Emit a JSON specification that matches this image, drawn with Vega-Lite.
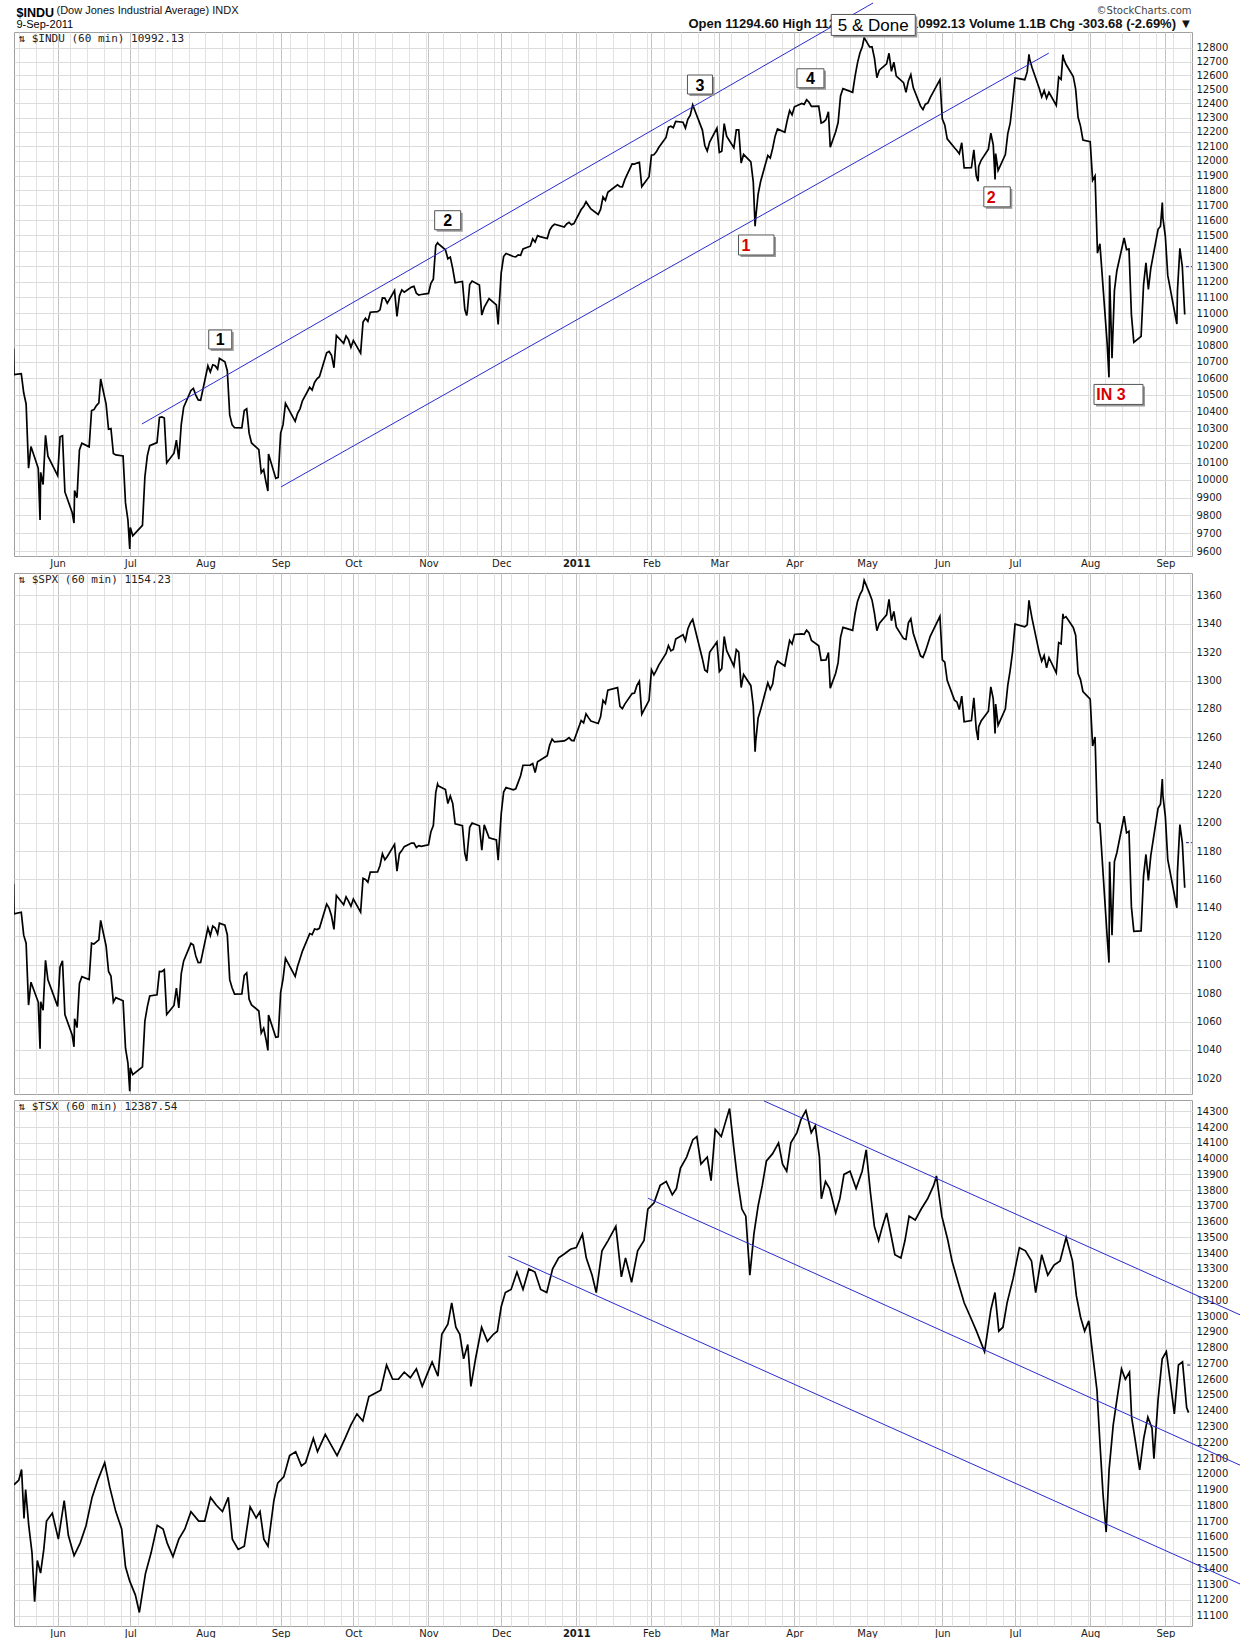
{
  "$schema": "https://vega.github.io/schema/vega-lite/v6.json",
  "background": "white",
  "padding": {"left": 13, "right": 0, "top": 0, "bottom": 0},
  "title": {
    "text": "$INDU",
    "subtitle": "9-Sep-2011",
    "anchor": "start",
    "frame": "bounds",
    "offset": -29.3,
    "dx": 3,
    "font": "Liberation Sans",
    "fontSize": 12.5,
    "fontWeight": "bold",
    "color": "#000000",
    "subtitleFont": "Liberation Sans",
    "subtitleFontSize": 11,
    "subtitleColor": "#000000",
    "subtitlePadding": -0.5
  },
  "spacing": 3,
  "config": {
    "view": {"stroke": "#a0a0a0"},
    "axis": {"labelFont": "DejaVu Sans", "labelFontSize": 10, "labelColor": "#1a1a1a"}
  },
  "datasets": {
    "idx": [
      {"d":"2010-05-13T20:00","i":10780,"s":1157},
      {"d":"2010-05-14","i":10620,"s":1135.7},
      {"d":"2010-05-17","i":10626,"s":1136.9},
      {"d":"2010-05-18","i":10511,"s":1120.8},
      {"d":"2010-05-19","i":10444,"s":1115.1},
      {"d":"2010-05-20","i":10068,"s":1071.6},
      {"d":"2010-05-21","i":10193,"s":1087.7},
      {"d":"2010-05-24","i":10067,"s":1073.7},
      {"d":"2010-05-24T18:00","i":9774,"s":1040.8},
      {"d":"2010-05-25","i":10044,"s":1074.0},
      {"d":"2010-05-26","i":9974,"s":1067.9},
      {"d":"2010-05-27","i":10259,"s":1103.1},
      {"d":"2010-05-28","i":10137,"s":1089.4},
      {"d":"2010-06-01","i":10025,"s":1070.7},
      {"d":"2010-06-02","i":10250,"s":1098.4},
      {"d":"2010-06-03","i":10256,"s":1102.8},
      {"d":"2010-06-04","i":9932,"s":1064.9},
      {"d":"2010-06-07","i":9816,"s":1050.5},
      {"d":"2010-06-07T18:00","i":9757,"s":1042.2},
      {"d":"2010-06-08","i":9940,"s":1062.0},
      {"d":"2010-06-09","i":9899,"s":1055.7},
      {"d":"2010-06-10","i":10173,"s":1086.8},
      {"d":"2010-06-11","i":10212,"s":1091.6},
      {"d":"2010-06-14","i":10191,"s":1089.6},
      {"d":"2010-06-15","i":10405,"s":1115.2},
      {"d":"2010-06-16","i":10410,"s":1114.6},
      {"d":"2010-06-17","i":10434,"s":1116.0},
      {"d":"2010-06-18","i":10450,"s":1117.5},
      {"d":"2010-06-18T18:00","i":10594,"s":1131.2},
      {"d":"2010-06-21","i":10443,"s":1113.2},
      {"d":"2010-06-22","i":10294,"s":1095.3},
      {"d":"2010-06-23","i":10298,"s":1092.0},
      {"d":"2010-06-24","i":10152,"s":1073.7},
      {"d":"2010-06-25","i":10144,"s":1076.8},
      {"d":"2010-06-28","i":10138,"s":1074.6},
      {"d":"2010-06-29","i":9870,"s":1041.2},
      {"d":"2010-06-30","i":9774,"s":1030.7},
      {"d":"2010-06-30T18:00","i":9614,"s":1010.9},
      {"d":"2010-07-01","i":9732,"s":1027.4},
      {"d":"2010-07-02","i":9686,"s":1022.6},
      {"d":"2010-07-06","i":9744,"s":1028.1},
      {"d":"2010-07-07","i":10018,"s":1060.3},
      {"d":"2010-07-08","i":10139,"s":1070.3},
      {"d":"2010-07-09","i":10198,"s":1078.0},
      {"d":"2010-07-12","i":10216,"s":1078.8},
      {"d":"2010-07-13","i":10364,"s":1095.3},
      {"d":"2010-07-14","i":10367,"s":1095.2},
      {"d":"2010-07-15","i":10360,"s":1096.5},
      {"d":"2010-07-16","i":10098,"s":1064.9},
      {"d":"2010-07-19","i":10154,"s":1071.3},
      {"d":"2010-07-20","i":10230,"s":1083.5},
      {"d":"2010-07-21","i":10120,"s":1069.6},
      {"d":"2010-07-22","i":10322,"s":1093.7},
      {"d":"2010-07-23","i":10425,"s":1102.7},
      {"d":"2010-07-26","i":10525,"s":1115.0},
      {"d":"2010-07-27","i":10537,"s":1113.8},
      {"d":"2010-07-28","i":10497,"s":1106.1},
      {"d":"2010-07-29","i":10468,"s":1101.5},
      {"d":"2010-07-30","i":10466,"s":1101.6},
      {"d":"2010-08-02","i":10674,"s":1125.9},
      {"d":"2010-08-03","i":10636,"s":1120.5},
      {"d":"2010-08-04","i":10680,"s":1127.2},
      {"d":"2010-08-05","i":10675,"s":1125.8},
      {"d":"2010-08-06","i":10654,"s":1121.6},
      {"d":"2010-08-06T18:00","i":10719,"s":1129.2},
      {"d":"2010-08-09","i":10698,"s":1127.8},
      {"d":"2010-08-10","i":10644,"s":1121.1},
      {"d":"2010-08-11","i":10379,"s":1089.5},
      {"d":"2010-08-12","i":10320,"s":1083.6},
      {"d":"2010-08-13","i":10303,"s":1079.3},
      {"d":"2010-08-16","i":10302,"s":1079.4},
      {"d":"2010-08-17","i":10405,"s":1092.5},
      {"d":"2010-08-18","i":10415,"s":1094.2},
      {"d":"2010-08-19","i":10271,"s":1075.6},
      {"d":"2010-08-20","i":10214,"s":1071.7},
      {"d":"2010-08-23","i":10175,"s":1067.4},
      {"d":"2010-08-24","i":10041,"s":1051.9},
      {"d":"2010-08-25","i":10060,"s":1055.3},
      {"d":"2010-08-26","i":9985,"s":1047.2},
      {"d":"2010-08-26T18:00","i":9937,"s":1039.7},
      {"d":"2010-08-27","i":10150,"s":1064.6},
      {"d":"2010-08-30","i":10009,"s":1048.9},
      {"d":"2010-08-31","i":10015,"s":1049.3},
      {"d":"2010-09-01","i":10270,"s":1080.3},
      {"d":"2010-09-02","i":10321,"s":1090.1},
      {"d":"2010-09-03","i":10448,"s":1104.5},
      {"d":"2010-09-07","i":10341,"s":1091.8},
      {"d":"2010-09-08","i":10388,"s":1098.9},
      {"d":"2010-09-09","i":10415,"s":1104.2},
      {"d":"2010-09-10","i":10463,"s":1109.6},
      {"d":"2010-09-13","i":10544,"s":1121.9},
      {"d":"2010-09-14","i":10527,"s":1121.1},
      {"d":"2010-09-15","i":10573,"s":1125.1},
      {"d":"2010-09-16","i":10595,"s":1124.7},
      {"d":"2010-09-17","i":10608,"s":1125.6},
      {"d":"2010-09-20","i":10754,"s":1142.7},
      {"d":"2010-09-21","i":10762,"s":1139.8},
      {"d":"2010-09-22","i":10739,"s":1134.3},
      {"d":"2010-09-23","i":10662,"s":1124.8},
      {"d":"2010-09-24","i":10861,"s":1148.7},
      {"d":"2010-09-27","i":10812,"s":1142.2},
      {"d":"2010-09-28","i":10858,"s":1147.7},
      {"d":"2010-09-29","i":10835,"s":1144.7},
      {"d":"2010-09-30","i":10788,"s":1141.2},
      {"d":"2010-10-01","i":10830,"s":1146.2},
      {"d":"2010-10-04","i":10752,"s":1137.0},
      {"d":"2010-10-05","i":10945,"s":1160.8},
      {"d":"2010-10-06","i":10968,"s":1160.0},
      {"d":"2010-10-07","i":10948,"s":1158.1},
      {"d":"2010-10-08","i":11006,"s":1165.2},
      {"d":"2010-10-11","i":11010,"s":1165.3},
      {"d":"2010-10-12","i":11021,"s":1169.8},
      {"d":"2010-10-13","i":11096,"s":1178.1},
      {"d":"2010-10-14","i":11095,"s":1173.8},
      {"d":"2010-10-15","i":11063,"s":1176.2},
      {"d":"2010-10-18","i":11143,"s":1184.7},
      {"d":"2010-10-19","i":10979,"s":1165.9},
      {"d":"2010-10-20","i":11108,"s":1178.2},
      {"d":"2010-10-21","i":11147,"s":1180.3},
      {"d":"2010-10-22","i":11133,"s":1183.1},
      {"d":"2010-10-25","i":11165,"s":1185.6},
      {"d":"2010-10-26","i":11170,"s":1185.6},
      {"d":"2010-10-27","i":11126,"s":1182.5},
      {"d":"2010-10-28","i":11114,"s":1183.8},
      {"d":"2010-10-29","i":11118,"s":1183.3},
      {"d":"2010-11-01","i":11125,"s":1184.4},
      {"d":"2010-11-02","i":11189,"s":1193.6},
      {"d":"2010-11-03","i":11216,"s":1198.0},
      {"d":"2010-11-04","i":11434,"s":1221.1},
      {"d":"2010-11-04T18:00","i":11451,"s":1227.1},
      {"d":"2010-11-05","i":11445,"s":1225.9},
      {"d":"2010-11-08","i":11406,"s":1223.3},
      {"d":"2010-11-09","i":11347,"s":1213.4},
      {"d":"2010-11-10","i":11358,"s":1218.7},
      {"d":"2010-11-11","i":11284,"s":1213.5},
      {"d":"2010-11-12","i":11193,"s":1199.2},
      {"d":"2010-11-15","i":11201,"s":1197.8},
      {"d":"2010-11-16","i":11023,"s":1178.3},
      {"d":"2010-11-16T18:00","i":10985,"s":1173.0},
      {"d":"2010-11-17","i":11008,"s":1178.6},
      {"d":"2010-11-18","i":11182,"s":1196.7},
      {"d":"2010-11-19","i":11204,"s":1199.7},
      {"d":"2010-11-22","i":11179,"s":1197.8},
      {"d":"2010-11-23","i":10988,"s":1180.7},
      {"d":"2010-11-24","i":11036,"s":1198.4},
      {"d":"2010-11-26","i":11092,"s":1189.4},
      {"d":"2010-11-29","i":11052,"s":1187.8},
      {"d":"2010-11-29T18:00","i":10929,"s":1173.6},
      {"d":"2010-11-30","i":11006,"s":1180.6},
      {"d":"2010-12-01","i":11256,"s":1206.1},
      {"d":"2010-12-02","i":11362,"s":1221.5},
      {"d":"2010-12-03","i":11382,"s":1224.7},
      {"d":"2010-12-06","i":11362,"s":1223.1},
      {"d":"2010-12-07","i":11359,"s":1223.8},
      {"d":"2010-12-08","i":11372,"s":1228.3},
      {"d":"2010-12-09","i":11370,"s":1233.0},
      {"d":"2010-12-10","i":11411,"s":1240.4},
      {"d":"2010-12-13","i":11429,"s":1240.5},
      {"d":"2010-12-14","i":11477,"s":1241.6},
      {"d":"2010-12-15","i":11457,"s":1235.2},
      {"d":"2010-12-16","i":11499,"s":1242.9},
      {"d":"2010-12-17","i":11492,"s":1243.9},
      {"d":"2010-12-20","i":11479,"s":1247.1},
      {"d":"2010-12-21","i":11534,"s":1254.6},
      {"d":"2010-12-22","i":11559,"s":1258.8},
      {"d":"2010-12-23","i":11574,"s":1256.8},
      {"d":"2010-12-27","i":11555,"s":1257.5},
      {"d":"2010-12-28","i":11575,"s":1258.5},
      {"d":"2010-12-29","i":11586,"s":1259.8},
      {"d":"2010-12-30","i":11570,"s":1257.9},
      {"d":"2010-12-31","i":11578,"s":1257.6},
      {"d":"2011-01-03","i":11671,"s":1271.9},
      {"d":"2011-01-04","i":11691,"s":1270.2},
      {"d":"2011-01-05","i":11723,"s":1276.6},
      {"d":"2011-01-06","i":11698,"s":1273.9},
      {"d":"2011-01-07","i":11675,"s":1271.5},
      {"d":"2011-01-10","i":11638,"s":1269.8},
      {"d":"2011-01-11","i":11672,"s":1274.5},
      {"d":"2011-01-12","i":11755,"s":1286.0},
      {"d":"2011-01-13","i":11732,"s":1283.8},
      {"d":"2011-01-14","i":11787,"s":1293.2},
      {"d":"2011-01-18","i":11837,"s":1295.0},
      {"d":"2011-01-19","i":11825,"s":1281.9},
      {"d":"2011-01-20","i":11823,"s":1280.3},
      {"d":"2011-01-21","i":11872,"s":1283.4},
      {"d":"2011-01-24","i":11980,"s":1290.8},
      {"d":"2011-01-25","i":11978,"s":1291.2},
      {"d":"2011-01-26","i":11985,"s":1296.6},
      {"d":"2011-01-27","i":11990,"s":1299.5},
      {"d":"2011-01-28","i":11824,"s":1276.3},
      {"d":"2011-01-31","i":11892,"s":1286.1},
      {"d":"2011-02-01","i":12040,"s":1307.6},
      {"d":"2011-02-02","i":12042,"s":1304.0},
      {"d":"2011-02-03","i":12062,"s":1307.1},
      {"d":"2011-02-04","i":12092,"s":1310.9},
      {"d":"2011-02-07","i":12162,"s":1319.1},
      {"d":"2011-02-08","i":12234,"s":1324.6},
      {"d":"2011-02-09","i":12240,"s":1320.9},
      {"d":"2011-02-10","i":12230,"s":1321.9},
      {"d":"2011-02-11","i":12273,"s":1329.2},
      {"d":"2011-02-14","i":12268,"s":1332.3},
      {"d":"2011-02-15","i":12227,"s":1328.0},
      {"d":"2011-02-16","i":12288,"s":1336.3},
      {"d":"2011-02-17","i":12318,"s":1340.4},
      {"d":"2011-02-18","i":12391,"s":1343.0},
      {"d":"2011-02-22","i":12213,"s":1315.4},
      {"d":"2011-02-23","i":12106,"s":1307.4},
      {"d":"2011-02-24","i":12068,"s":1306.1},
      {"d":"2011-02-25","i":12130,"s":1319.9},
      {"d":"2011-02-28","i":12226,"s":1327.2},
      {"d":"2011-03-01","i":12058,"s":1306.3},
      {"d":"2011-03-02","i":12066,"s":1308.4},
      {"d":"2011-03-03","i":12258,"s":1331.0},
      {"d":"2011-03-04","i":12170,"s":1321.2},
      {"d":"2011-03-07","i":12090,"s":1310.1},
      {"d":"2011-03-08","i":12214,"s":1321.8},
      {"d":"2011-03-09","i":12214,"s":1320.0},
      {"d":"2011-03-10","i":11985,"s":1295.1},
      {"d":"2011-03-11","i":12044,"s":1304.3},
      {"d":"2011-03-14","i":11993,"s":1296.4},
      {"d":"2011-03-15","i":11855,"s":1281.9},
      {"d":"2011-03-15T18:00","i":11560,"s":1250.0},
      {"d":"2011-03-16","i":11613,"s":1256.9},
      {"d":"2011-03-17","i":11775,"s":1273.7},
      {"d":"2011-03-18","i":11858,"s":1279.2},
      {"d":"2011-03-21","i":12037,"s":1298.4},
      {"d":"2011-03-22","i":12019,"s":1293.8},
      {"d":"2011-03-23","i":12087,"s":1297.5},
      {"d":"2011-03-24","i":12171,"s":1309.7},
      {"d":"2011-03-25","i":12221,"s":1313.8},
      {"d":"2011-03-28","i":12198,"s":1310.2},
      {"d":"2011-03-29","i":12280,"s":1319.4},
      {"d":"2011-03-30","i":12350,"s":1328.3},
      {"d":"2011-03-31","i":12320,"s":1325.8},
      {"d":"2011-04-01","i":12377,"s":1332.4},
      {"d":"2011-04-04","i":12400,"s":1332.9},
      {"d":"2011-04-05","i":12394,"s":1332.6},
      {"d":"2011-04-06","i":12427,"s":1335.5},
      {"d":"2011-04-07","i":12409,"s":1333.5},
      {"d":"2011-04-08","i":12380,"s":1328.2},
      {"d":"2011-04-11","i":12382,"s":1324.5},
      {"d":"2011-04-12","i":12263,"s":1314.2},
      {"d":"2011-04-13","i":12270,"s":1314.4},
      {"d":"2011-04-14","i":12286,"s":1314.5},
      {"d":"2011-04-15","i":12342,"s":1319.7},
      {"d":"2011-04-15T18:00","i":12094,"s":1294.7},
      {"d":"2011-04-18","i":12202,"s":1305.1},
      {"d":"2011-04-19","i":12266,"s":1312.6},
      {"d":"2011-04-20","i":12453,"s":1330.4},
      {"d":"2011-04-21","i":12506,"s":1337.4},
      {"d":"2011-04-25","i":12480,"s":1335.3},
      {"d":"2011-04-26","i":12595,"s":1347.2},
      {"d":"2011-04-27","i":12691,"s":1355.7},
      {"d":"2011-04-28","i":12763,"s":1360.5},
      {"d":"2011-04-29","i":12811,"s":1363.6},
      {"d":"2011-04-29T18:00","i":12876,"s":1370.6},
      {"d":"2011-05-02","i":12808,"s":1361.2},
      {"d":"2011-05-03","i":12808,"s":1356.6},
      {"d":"2011-05-04","i":12724,"s":1347.3},
      {"d":"2011-05-05","i":12584,"s":1335.1},
      {"d":"2011-05-06","i":12638,"s":1340.2},
      {"d":"2011-05-09","i":12684,"s":1346.3},
      {"d":"2011-05-10","i":12761,"s":1357.2},
      {"d":"2011-05-11","i":12630,"s":1342.1},
      {"d":"2011-05-12","i":12696,"s":1348.7},
      {"d":"2011-05-13","i":12596,"s":1337.8},
      {"d":"2011-05-16","i":12549,"s":1329.5},
      {"d":"2011-05-17","i":12479,"s":1329.0},
      {"d":"2011-05-18","i":12561,"s":1340.7},
      {"d":"2011-05-19","i":12606,"s":1343.6},
      {"d":"2011-05-20","i":12513,"s":1333.3},
      {"d":"2011-05-23","i":12381,"s":1317.4},
      {"d":"2011-05-24","i":12357,"s":1316.3},
      {"d":"2011-05-25","i":12395,"s":1320.5},
      {"d":"2011-05-26","i":12403,"s":1325.7},
      {"d":"2011-05-27","i":12442,"s":1331.1},
      {"d":"2011-05-31","i":12570,"s":1345.2},
      {"d":"2011-06-01","i":12290,"s":1314.6},
      {"d":"2011-06-02","i":12249,"s":1312.9},
      {"d":"2011-06-03","i":12152,"s":1300.2},
      {"d":"2011-06-06","i":12090,"s":1286.2},
      {"d":"2011-06-07","i":12071,"s":1284.9},
      {"d":"2011-06-08","i":12049,"s":1279.6},
      {"d":"2011-06-09","i":12125,"s":1289.0},
      {"d":"2011-06-10","i":11952,"s":1271.0},
      {"d":"2011-06-13","i":11953,"s":1271.8},
      {"d":"2011-06-14","i":12076,"s":1287.9},
      {"d":"2011-06-15","i":11898,"s":1265.4},
      {"d":"2011-06-15T18:00","i":11862,"s":1258.1},
      {"d":"2011-06-16","i":11962,"s":1267.6},
      {"d":"2011-06-17","i":12004,"s":1271.5},
      {"d":"2011-06-20","i":12081,"s":1278.4},
      {"d":"2011-06-21","i":12191,"s":1295.5},
      {"d":"2011-06-22","i":12110,"s":1287.1},
      {"d":"2011-06-22T18:00","i":11874,"s":1262.7},
      {"d":"2011-06-23","i":12050,"s":1283.5},
      {"d":"2011-06-24","i":11934,"s":1268.5},
      {"d":"2011-06-27","i":12043,"s":1280.1},
      {"d":"2011-06-28","i":12188,"s":1296.7},
      {"d":"2011-06-29","i":12262,"s":1307.4},
      {"d":"2011-06-30","i":12414,"s":1320.6},
      {"d":"2011-07-01","i":12582,"s":1339.7},
      {"d":"2011-07-05","i":12570,"s":1337.9},
      {"d":"2011-07-06","i":12626,"s":1339.2},
      {"d":"2011-07-06T18:00","i":12753,"s":1356.5},
      {"d":"2011-07-07","i":12719,"s":1353.2},
      {"d":"2011-07-08","i":12657,"s":1343.8},
      {"d":"2011-07-11","i":12506,"s":1319.5},
      {"d":"2011-07-12","i":12447,"s":1313.6},
      {"d":"2011-07-13","i":12492,"s":1317.7},
      {"d":"2011-07-14","i":12437,"s":1308.9},
      {"d":"2011-07-15","i":12480,"s":1316.1},
      {"d":"2011-07-18","i":12386,"s":1305.4},
      {"d":"2011-07-19","i":12588,"s":1326.7},
      {"d":"2011-07-20","i":12572,"s":1325.8},
      {"d":"2011-07-20T18:00","i":12751,"s":1347.0},
      {"d":"2011-07-21","i":12724,"s":1343.8},
      {"d":"2011-07-22","i":12681,"s":1345.0},
      {"d":"2011-07-25","i":12593,"s":1337.4},
      {"d":"2011-07-26","i":12502,"s":1331.9},
      {"d":"2011-07-27","i":12303,"s":1304.9},
      {"d":"2011-07-28","i":12241,"s":1300.7},
      {"d":"2011-07-29","i":12144,"s":1292.3},
      {"d":"2011-08-01","i":12133,"s":1286.9},
      {"d":"2011-08-02","i":11867,"s":1254.0},
      {"d":"2011-08-03","i":11897,"s":1260.3},
      {"d":"2011-08-04","i":11384,"s":1200.1},
      {"d":"2011-08-05","i":11445,"s":1199.4},
      {"d":"2011-08-08","i":10810,"s":1119.5},
      {"d":"2011-08-08T18:00","i":10604,"s":1101.5},
      {"d":"2011-08-09","i":11240,"s":1172.5},
      {"d":"2011-08-10","i":10720,"s":1120.8},
      {"d":"2011-08-11","i":11144,"s":1172.6},
      {"d":"2011-08-12","i":11270,"s":1178.8},
      {"d":"2011-08-15","i":11483,"s":1204.5},
      {"d":"2011-08-16","i":11406,"s":1192.8},
      {"d":"2011-08-17","i":11411,"s":1193.9},
      {"d":"2011-08-18","i":10991,"s":1140.7},
      {"d":"2011-08-19","i":10818,"s":1123.5},
      {"d":"2011-08-22","i":10855,"s":1123.8},
      {"d":"2011-08-23","i":11177,"s":1162.4},
      {"d":"2011-08-24","i":11321,"s":1177.6},
      {"d":"2011-08-25","i":11150,"s":1159.3},
      {"d":"2011-08-26","i":11285,"s":1176.8},
      {"d":"2011-08-29","i":11540,"s":1210.1},
      {"d":"2011-08-30","i":11560,"s":1212.9},
      {"d":"2011-08-30T18:00","i":11717,"s":1230.7},
      {"d":"2011-08-31","i":11614,"s":1218.9},
      {"d":"2011-09-01","i":11494,"s":1204.4},
      {"d":"2011-09-02","i":11240,"s":1174.0},
      {"d":"2011-09-05T18:00","i":10932,"s":1140.1},
      {"d":"2011-09-06","i":11140,"s":1165.2},
      {"d":"2011-09-07","i":11415,"s":1198.6},
      {"d":"2011-09-08","i":11296,"s":1185.9},
      {"d":"2011-09-09","i":10992,"s":1154.2}
    ],
    "tsx": [
      {"d":"2010-05-14T00:00","v":11930},
      {"d":"2010-05-16T00:00","v":11960},
      {"d":"2010-05-17T03:00","v":12027},
      {"d":"2010-05-18T03:00","v":11717},
      {"d":"2010-05-18T19:00","v":11900},
      {"d":"2010-05-20T02:00","v":11673},
      {"d":"2010-05-21T10:00","v":11500},
      {"d":"2010-05-22T12:00","v":11188},
      {"d":"2010-05-23T15:00","v":11450},
      {"d":"2010-05-24T23:00","v":11370},
      {"d":"2010-05-26T07:00","v":11520},
      {"d":"2010-05-27T10:00","v":11700},
      {"d":"2010-05-29T19:00","v":11750},
      {"d":"2010-06-01T07:00","v":11585},
      {"d":"2010-06-03T17:00","v":11830},
      {"d":"2010-06-05T10:00","v":11610},
      {"d":"2010-06-07T19:00","v":11480},
      {"d":"2010-06-10T07:00","v":11560},
      {"d":"2010-06-12T17:00","v":11670},
      {"d":"2010-06-15T05:00","v":11850},
      {"d":"2010-06-17T14:00","v":11960},
      {"d":"2010-06-20T10:00","v":12070},
      {"d":"2010-06-22T12:00","v":11915},
      {"d":"2010-06-25T00:00","v":11760},
      {"d":"2010-06-27T10:00","v":11650},
      {"d":"2010-06-29T00:00","v":11410},
      {"d":"2010-06-30T17:00","v":11320},
      {"d":"2010-07-03T02:00","v":11230},
      {"d":"2010-07-04T17:00","v":11120},
      {"d":"2010-07-07T05:00","v":11365},
      {"d":"2010-07-09T14:00","v":11500},
      {"d":"2010-07-12T02:00","v":11673},
      {"d":"2010-07-14T12:00","v":11650},
      {"d":"2010-07-16T05:00","v":11560},
      {"d":"2010-07-18T14:00","v":11475},
      {"d":"2010-07-21T00:00","v":11585},
      {"d":"2010-07-23T12:00","v":11650},
      {"d":"2010-07-26T00:00","v":11760},
      {"d":"2010-07-29T05:00","v":11700},
      {"d":"2010-07-31T17:00","v":11700},
      {"d":"2010-08-03T02:00","v":11850},
      {"d":"2010-08-05T12:00","v":11800},
      {"d":"2010-08-08T00:00","v":11760},
      {"d":"2010-08-10T10:00","v":11850},
      {"d":"2010-08-12T02:00","v":11585},
      {"d":"2010-08-14T12:00","v":11520},
      {"d":"2010-08-17T00:00","v":11540},
      {"d":"2010-08-19T10:00","v":11790},
      {"d":"2010-08-21T22:00","v":11720},
      {"d":"2010-08-23T12:00","v":11760},
      {"d":"2010-08-25T02:00","v":11585},
      {"d":"2010-08-26T19:00","v":11540},
      {"d":"2010-08-29T05:00","v":11830},
      {"d":"2010-08-30T19:00","v":11940},
      {"d":"2010-09-02T07:00","v":11980},
      {"d":"2010-09-04T17:00","v":12115},
      {"d":"2010-09-07T05:00","v":12140},
      {"d":"2010-09-09T14:00","v":12050},
      {"d":"2010-09-11T07:00","v":12070},
      {"d":"2010-09-14T12:00","v":12225},
      {"d":"2010-09-16T05:00","v":12140},
      {"d":"2010-09-19T10:00","v":12250},
      {"d":"2010-09-21T22:00","v":12180},
      {"d":"2010-09-24T07:00","v":12115},
      {"d":"2010-09-27T14:00","v":12225},
      {"d":"2010-09-30T00:00","v":12310},
      {"d":"2010-10-02T12:00","v":12380},
      {"d":"2010-10-04T22:00","v":12335},
      {"d":"2010-10-07T10:00","v":12490},
      {"d":"2010-10-09T19:00","v":12510},
      {"d":"2010-10-12T07:00","v":12530},
      {"d":"2010-10-14T17:00","v":12690},
      {"d":"2010-10-17T05:00","v":12600},
      {"d":"2010-10-19T14:00","v":12600},
      {"d":"2010-10-22T00:00","v":12645},
      {"d":"2010-10-24T12:00","v":12610},
      {"d":"2010-10-27T00:00","v":12665},
      {"d":"2010-10-29T10:00","v":12555},
      {"d":"2010-10-31T19:00","v":12645},
      {"d":"2010-11-02T12:00","v":12710},
      {"d":"2010-11-04T22:00","v":12620},
      {"d":"2010-11-06T12:00","v":12885},
      {"d":"2010-11-09T00:00","v":12950},
      {"d":"2010-11-10T14:00","v":13085},
      {"d":"2010-11-12T07:00","v":12930},
      {"d":"2010-11-13T22:00","v":12885},
      {"d":"2010-11-15T12:00","v":12730},
      {"d":"2010-11-17T05:00","v":12820},
      {"d":"2010-11-18T12:00","v":12555},
      {"d":"2010-11-20T10:00","v":12730},
      {"d":"2010-11-22T22:00","v":12930},
      {"d":"2010-11-25T07:00","v":12840},
      {"d":"2010-11-27T19:00","v":12885},
      {"d":"2010-11-29T10:00","v":12905},
      {"d":"2010-12-01T00:00","v":13060},
      {"d":"2010-12-02T17:00","v":13150},
      {"d":"2010-12-05T02:00","v":13170},
      {"d":"2010-12-07T12:00","v":13280},
      {"d":"2010-12-10T00:00","v":13170},
      {"d":"2010-12-12T10:00","v":13300},
      {"d":"2010-12-14T22:00","v":13280},
      {"d":"2010-12-17T07:00","v":13170},
      {"d":"2010-12-19T19:00","v":13150},
      {"d":"2010-12-22T05:00","v":13300},
      {"d":"2010-12-24T17:00","v":13370},
      {"d":"2010-12-27T00:00","v":13395},
      {"d":"2010-12-29T14:00","v":13425},
      {"d":"2010-12-31T23:00","v":13435},
      {"d":"2011-01-03T12:00","v":13520},
      {"d":"2011-01-05T02:00","v":13370},
      {"d":"2011-01-07T12:00","v":13260},
      {"d":"2011-01-09T05:00","v":13150},
      {"d":"2011-01-11T14:00","v":13415},
      {"d":"2011-01-14T02:00","v":13480},
      {"d":"2011-01-17T07:00","v":13570},
      {"d":"2011-01-19T14:00","v":13250},
      {"d":"2011-01-21T07:00","v":13370},
      {"d":"2011-01-23T19:00","v":13215},
      {"d":"2011-01-26T07:00","v":13415},
      {"d":"2011-01-28T22:00","v":13480},
      {"d":"2011-01-30T12:00","v":13680},
      {"d":"2011-02-02T02:00","v":13720},
      {"d":"2011-02-04T14:00","v":13830},
      {"d":"2011-02-07T02:00","v":13855},
      {"d":"2011-02-09T14:00","v":13770},
      {"d":"2011-02-11T07:00","v":13810},
      {"d":"2011-02-12T23:00","v":13940},
      {"d":"2011-02-15T12:00","v":14010},
      {"d":"2011-02-18T02:00","v":14120},
      {"d":"2011-02-19T17:00","v":14140},
      {"d":"2011-02-21T10:00","v":13965},
      {"d":"2011-02-24T00:00","v":14010},
      {"d":"2011-02-25T14:00","v":13860},
      {"d":"2011-02-27T07:00","v":14185},
      {"d":"2011-03-01T19:00","v":14140},
      {"d":"2011-03-03T12:00","v":14230},
      {"d":"2011-03-05T05:00","v":14318},
      {"d":"2011-03-06T22:00","v":14075},
      {"d":"2011-03-08T14:00","v":13855},
      {"d":"2011-03-10T07:00","v":13680},
      {"d":"2011-03-11T22:00","v":13635},
      {"d":"2011-03-13T14:00","v":13260},
      {"d":"2011-03-15T07:00","v":13525},
      {"d":"2011-03-17T00:00","v":13700},
      {"d":"2011-03-18T17:00","v":13830},
      {"d":"2011-03-20T10:00","v":13985},
      {"d":"2011-03-22T22:00","v":14030},
      {"d":"2011-03-25T10:00","v":14100},
      {"d":"2011-03-27T02:00","v":13965},
      {"d":"2011-03-28T19:00","v":13920},
      {"d":"2011-03-30T12:00","v":14100},
      {"d":"2011-04-02T00:00","v":14165},
      {"d":"2011-04-03T17:00","v":14250},
      {"d":"2011-04-05T17:00","v":14305},
      {"d":"2011-04-07T22:00","v":14165},
      {"d":"2011-04-09T14:00","v":14210},
      {"d":"2011-04-11T07:00","v":14010},
      {"d":"2011-04-12T02:00","v":13745},
      {"d":"2011-04-13T19:00","v":13855},
      {"d":"2011-04-15T12:00","v":13810},
      {"d":"2011-04-18T00:00","v":13655},
      {"d":"2011-04-19T17:00","v":13745},
      {"d":"2011-04-21T10:00","v":13900},
      {"d":"2011-04-23T22:00","v":13920},
      {"d":"2011-04-26T10:00","v":13810},
      {"d":"2011-04-28T22:00","v":13920},
      {"d":"2011-04-30T14:00","v":14055},
      {"d":"2011-05-02T07:00","v":13790},
      {"d":"2011-05-03T23:00","v":13570},
      {"d":"2011-05-05T17:00","v":13480},
      {"d":"2011-05-07T07:00","v":13570},
      {"d":"2011-05-09T00:00","v":13655},
      {"d":"2011-05-10T17:00","v":13525},
      {"d":"2011-05-12T10:00","v":13390},
      {"d":"2011-05-14T22:00","v":13370},
      {"d":"2011-05-16T14:00","v":13480},
      {"d":"2011-05-18T07:00","v":13635},
      {"d":"2011-05-20T19:00","v":13610},
      {"d":"2011-05-23T07:00","v":13680},
      {"d":"2011-05-25T22:00","v":13745},
      {"d":"2011-05-28T10:00","v":13830},
      {"d":"2011-05-29T14:00","v":13890},
      {"d":"2011-05-31T19:00","v":13635},
      {"d":"2011-06-03T07:00","v":13480},
      {"d":"2011-06-05T00:00","v":13350},
      {"d":"2011-06-07T12:00","v":13215},
      {"d":"2011-06-10T00:00","v":13085},
      {"d":"2011-06-12T14:00","v":12995},
      {"d":"2011-06-15T02:00","v":12905},
      {"d":"2011-06-18T10:00","v":12775},
      {"d":"2011-06-21T00:00","v":13040},
      {"d":"2011-06-22T17:00","v":13150},
      {"d":"2011-06-24T07:00","v":12905},
      {"d":"2011-06-26T00:00","v":12930},
      {"d":"2011-06-27T17:00","v":13085},
      {"d":"2011-06-30T05:00","v":13240},
      {"d":"2011-07-02T19:00","v":13435},
      {"d":"2011-07-05T07:00","v":13415},
      {"d":"2011-07-07T19:00","v":13350},
      {"d":"2011-07-09T12:00","v":13150},
      {"d":"2011-07-12T00:00","v":13390},
      {"d":"2011-07-14T12:00","v":13260},
      {"d":"2011-07-17T02:00","v":13325},
      {"d":"2011-07-19T14:00","v":13350},
      {"d":"2011-07-22T02:00","v":13500},
      {"d":"2011-07-24T17:00","v":13350},
      {"d":"2011-07-26T07:00","v":13130},
      {"d":"2011-07-28T00:00","v":12995},
      {"d":"2011-07-29T17:00","v":12905},
      {"d":"2011-07-31T10:00","v":12970},
      {"d":"2011-08-02T02:00","v":12750},
      {"d":"2011-08-03T19:00","v":12530},
      {"d":"2011-08-05T00:00","v":12200},
      {"d":"2011-08-06T07:00","v":11870},
      {"d":"2011-08-07T14:00","v":11630},
      {"d":"2011-08-08T19:00","v":12025},
      {"d":"2011-08-10T12:00","v":12310},
      {"d":"2011-08-12T05:00","v":12490},
      {"d":"2011-08-13T22:00","v":12665},
      {"d":"2011-08-15T12:00","v":12600},
      {"d":"2011-08-17T05:00","v":12645},
      {"d":"2011-08-18T02:00","v":12360},
      {"d":"2011-08-19T17:00","v":12200},
      {"d":"2011-08-21T10:00","v":12025},
      {"d":"2011-08-23T02:00","v":12225},
      {"d":"2011-08-24T19:00","v":12360},
      {"d":"2011-08-26T12:00","v":12290},
      {"d":"2011-08-27T07:00","v":12095},
      {"d":"2011-08-29T00:00","v":12470},
      {"d":"2011-08-30T17:00","v":12730},
      {"d":"2011-09-01T10:00","v":12775},
      {"d":"2011-09-03T02:00","v":12580},
      {"d":"2011-09-04T17:00","v":12380},
      {"d":"2011-09-06T10:00","v":12690},
      {"d":"2011-09-08T02:00","v":12710},
      {"d":"2011-09-09T19:00","v":12420},
      {"d":"2011-09-10T14:00","v":12388}
    ],
    "prev": [
      {"p":"INDU","d":"2011-09-09T12:00","d2":"2011-09-12T00:00","v":11296},
      {"p":"SPX","d":"2011-09-09T12:00","d2":"2011-09-12T00:00","v":1185.9},
      {"p":"TSX","d":"2011-09-10T00:00","d2":"2011-09-12T00:00","v":12690}
    ],
    "chan": [
      {"p":"INDU","g":"u","d":"2010-07-05T19:00","v":10325},
      {"p":"INDU","g":"u","d":"2011-05-03T10:00","v":13133},
      {"p":"INDU","g":"l","d":"2010-09-01T05:00","v":9961},
      {"p":"INDU","g":"l","d":"2011-07-14T22:00","v":12762},
      {"p":"TSX","g":"a","d":"2011-03-19T10:00","v":14366},
      {"p":"TSX","g":"a","d":"2011-10-02T05:00","v":13006},
      {"p":"TSX","g":"b","d":"2011-01-30T14:00","v":13749},
      {"p":"TSX","g":"b","d":"2011-10-02T05:00","v":12052},
      {"p":"TSX","g":"c","d":"2010-12-03T22:00","v":13381},
      {"p":"TSX","g":"c","d":"2011-10-02T05:00","v":11298}
    ],
    "notes": [
      {"id":"b1","label":"1","kind":"b","d":"2010-08-07T02:00","v":10836},
      {"id":"b2","label":"2","kind":"b","d":"2010-11-08T22:00","v":11600},
      {"id":"b3","label":"3","kind":"b","d":"2011-02-21T00:00","v":12535},
      {"id":"b4","label":"4","kind":"b","d":"2011-04-07T14:00","v":12580},
      {"id":"b5","label":"5 & Done","kind":"big","d":"2011-05-03T12:00","v":12969},
      {"id":"r1","label":"1","kind":"r","d":"2011-03-12T00:00","v":11437},
      {"id":"r2","label":"2","kind":"r","d":"2011-06-21T05:00","v":11756},
      {"id":"r3","label":"IN 3","kind":"r","d":"2011-08-09T14:00","v":10501}
    ]
  },
  "vconcat": [
    {
      "width": 1178,
      "height": 524,
      "resolve": {"axis": {"x": "independent", "y": "independent"}, "scale": {"shape": "independent"}},
      "layer": [
        {
          "data": {"name": "idx"},
          "mark": {"type": "line", "color": "#000000", "strokeWidth": 1.7, "clip": true},
          "encoding": {
            "x": {
              "field": "d", "type": "temporal",
              "scale": {"domain": [{"year": 2010, "month": 5, "date": 14}, {"year": 2011, "month": 9, "date": 12}]},
              "axis": {
                "orient": "bottom", "tickCount": {"interval": "month", "step": 1},
                "labelExpr": "month(datum.value) == 0 ? timeFormat(datum.value, '%Y') : timeFormat(datum.value, '%b')",
                "labelFontWeight": {"condition": {"test": "month(datum.value) == 0", "value": "bold"}, "value": "normal"},
                "labelFlush": false, "labelOverlap": false, "labelPadding": 2,
                "grid": true, "gridColor": "#c4c4c4", "ticks": false, "domain": false,
                "title": "(Dow Jones Industrial Average) INDX",
                "titleX": 42, "titleY": -543, "titleAlign": "left", "titleBaseline": "alphabetic",
                "titleFont": "Liberation Sans", "titleFontSize": 11, "titleFontWeight": "normal", "titleColor": "#111111"
              }
            },
            "y": {
              "field": "i", "type": "quantitative",
              "scale": {"type": "log", "domain": [9575, 12917], "nice": false, "zero": false},
              "axis": {
                "orient": "right",
                "values": [9600,9700,9800,9900,10000,10100,10200,10300,10400,10500,10600,10700,10800,10900,11000,11100,11200,11300,11400,11500,11600,11700,11800,11900,12000,12100,12200,12300,12400,12500,12600,12700,12800],
                "format": "d", "grid": true, "gridColor": "#dcdcdc", "ticks": false, "domain": false, "labelPadding": 4,
                "title": "©StockCharts.com", "titleAngle": 0, "titleAlign": "right", "titleBaseline": "alphabetic",
                "titleX": -1, "titleY": -19, "titleFont": "DejaVu Sans", "titleFontSize": 10, "titleFontWeight": "normal", "titleColor": "#444444"
              }
            }
          }
        },
        {
          "data": {"name": "prev"},
          "transform": [{"filter": "datum.p == 'INDU'"}],
          "mark": {"type": "rule", "color": "#1a1a80", "strokeDash": [3, 2], "clip": false},
          "encoding": {
            "x": {
              "field": "d", "type": "temporal",
              "axis": {
                "orient": "top", "tickCount": {"interval": "week", "step": 1},
                "labels": false, "ticks": false, "domain": false, "grid": true, "gridColor": "#e2e2e2",
                "title": "Open 11294.60    High 11294.83    Close 10992.13    Volume 1.1B    Chg -303.68 (-2.69%) ▼",
                "titleX": 1178, "titleY": -5, "titleAlign": "right", "titleBaseline": "alphabetic",
                "titleFont": "Liberation Sans", "titleFontSize": 13, "titleFontWeight": "bold", "titleColor": "#111111"
              }
            },
            "x2": {"field": "d2"},
            "y": {
              "field": "v", "type": "quantitative",
              "axis": {
                "orient": "left", "labels": false, "ticks": false, "domain": false, "grid": false,
                "title": "⇅ $INDU (60 min) 10992.13", "titleAngle": 0, "titleAlign": "left", "titleBaseline": "alphabetic",
                "titleX": 4, "titleY": 9, "titleFont": "DejaVu Sans Mono", "titleFontSize": 11, "titleFontWeight": "normal", "titleColor": "#222222"
              }
            }
          }
        },
        {
          "data": {"name": "chan"},
          "transform": [{"filter": "datum.p == 'INDU'"}],
          "mark": {"type": "line", "color": "#2b2bcf", "strokeWidth": 1, "clip": false},
          "encoding": {
            "x": {"field": "d", "type": "temporal", "axis": null},
            "y": {"field": "v", "type": "quantitative", "axis": null},
            "detail": {"field": "g"}
          }
        },
        {
          "data": {"name": "notes"},
          "mark": {"type": "point", "filled": true, "color": "#9a9a9a", "strokeWidth": 0, "size": 10000, "opacity": 1, "clip": false},
          "encoding": {
            "x": {"field": "d", "type": "temporal", "axis": null},
            "y": {"field": "v", "type": "quantitative", "axis": null},
            "shape": {
              "field": "id", "type": "nominal", "legend": null,
              "scale": {
                "domain": ["b1","b2","b3","b4","b5","r1","r2","r3"],
                "range": [
                  "M-0.19,-0.15H0.27V0.23H-0.19Z",
                  "M-0.22,-0.15H0.3V0.23H-0.22Z",
                  "M-0.21,-0.15H0.29V0.23H-0.21Z",
                  "M-0.23,-0.15H0.31V0.23H-0.23Z",
                  "M-0.8,-0.17H0.88V0.25H-0.8Z",
                  "M-0.11,-0.16H0.6V0.24H-0.11Z",
                  "M-0.11,-0.16H0.42V0.24H-0.11Z",
                  "M-0.3,-0.16H0.68V0.24H-0.3Z"
                ]
              }
            }
          }
        },
        {
          "data": {"name": "notes"},
          "mark": {"type": "point", "filled": true, "fill": "#ffffff", "stroke": "#555555", "strokeWidth": 1, "size": 10000, "opacity": 1, "clip": false},
          "encoding": {
            "x": {"field": "d", "type": "temporal", "axis": null},
            "y": {"field": "v", "type": "quantitative", "axis": null},
            "shape": {
              "field": "id", "type": "nominal", "legend": null,
              "scale": {
                "domain": ["b1","b2","b3","b4","b5","r1","r2","r3"],
                "range": [
                  "M-0.23,-0.19H0.23V0.19H-0.23Z",
                  "M-0.26,-0.19H0.26V0.19H-0.26Z",
                  "M-0.25,-0.19H0.25V0.19H-0.25Z",
                  "M-0.27,-0.19H0.27V0.19H-0.27Z",
                  "M-0.84,-0.21H0.84V0.21H-0.84Z",
                  "M-0.15,-0.2H0.56V0.2H-0.15Z",
                  "M-0.15,-0.2H0.38V0.2H-0.15Z",
                  "M-0.34,-0.2H0.64V0.2H-0.34Z"
                ]
              }
            }
          }
        },
        {
          "data": {"name": "notes"},
          "transform": [{"filter": "datum.kind != 'big'"}],
          "mark": {"type": "text", "font": "Liberation Sans", "fontSize": 16, "fontWeight": "bold", "align": "center", "baseline": "middle", "dy": 1, "clip": false},
          "encoding": {
            "x": {"field": "d", "type": "temporal", "axis": null},
            "y": {"field": "v", "type": "quantitative", "axis": null},
            "text": {"field": "label"},
            "color": {"field": "kind", "type": "nominal", "legend": null, "scale": {"domain": ["b", "r"], "range": ["#000000", "#d80000"]}}
          }
        },
        {
          "data": {"name": "notes"},
          "transform": [{"filter": "datum.kind == 'big'"}],
          "mark": {"type": "text", "font": "Liberation Sans", "fontSize": 17, "fontWeight": "normal", "color": "#000000", "align": "center", "baseline": "middle", "dy": 1, "clip": false},
          "encoding": {
            "x": {"field": "d", "type": "temporal", "axis": null},
            "y": {"field": "v", "type": "quantitative", "axis": null},
            "text": {"field": "label"}
          }
        }
      ]
    },
    {
      "width": 1178,
      "height": 521,
      "resolve": {"axis": {"x": "independent", "y": "independent"}},
      "layer": [
        {
          "data": {"name": "idx"},
          "mark": {"type": "line", "color": "#000000", "strokeWidth": 1.7, "clip": true},
          "encoding": {
            "x": {
              "field": "d", "type": "temporal",
              "scale": {"domain": [{"year": 2010, "month": 5, "date": 14}, {"year": 2011, "month": 9, "date": 12}]},
              "axis": {
                "orient": "bottom", "tickCount": {"interval": "month", "step": 1},
                "labels": false, "grid": true, "gridColor": "#c4c4c4", "ticks": false, "domain": false, "title": null
              }
            },
            "y": {
              "field": "s", "type": "quantitative",
              "scale": {"domain": [1009, 1375.7], "nice": false, "zero": false},
              "axis": {
                "orient": "right",
                "values": [1020,1040,1060,1080,1100,1120,1140,1160,1180,1200,1220,1240,1260,1280,1300,1320,1340,1360],
                "format": "d", "grid": true, "gridColor": "#dcdcdc", "ticks": false, "domain": false, "labelPadding": 4, "title": null
              }
            }
          }
        },
        {
          "data": {"name": "prev"},
          "transform": [{"filter": "datum.p == 'SPX'"}],
          "mark": {"type": "rule", "color": "#1a1a80", "strokeDash": [3, 2], "clip": false},
          "encoding": {
            "x": {
              "field": "d", "type": "temporal",
              "axis": {"orient": "top", "tickCount": {"interval": "week", "step": 1}, "labels": false, "ticks": false, "domain": false, "grid": true, "gridColor": "#e2e2e2", "title": null}
            },
            "x2": {"field": "d2"},
            "y": {
              "field": "v", "type": "quantitative",
              "axis": {
                "orient": "left", "labels": false, "ticks": false, "domain": false, "grid": false,
                "title": "⇅ $SPX (60 min) 1154.23", "titleAngle": 0, "titleAlign": "left", "titleBaseline": "alphabetic",
                "titleX": 4, "titleY": 9, "titleFont": "DejaVu Sans Mono", "titleFontSize": 11, "titleFontWeight": "normal", "titleColor": "#222222"
              }
            }
          }
        }
      ]
    },
    {
      "width": 1178,
      "height": 526,
      "resolve": {"axis": {"x": "independent", "y": "independent"}},
      "layer": [
        {
          "data": {"name": "tsx"},
          "mark": {"type": "line", "color": "#000000", "strokeWidth": 1.7, "clip": true},
          "encoding": {
            "x": {
              "field": "d", "type": "temporal",
              "scale": {"domain": [{"year": 2010, "month": 5, "date": 14}, {"year": 2011, "month": 9, "date": 12}]},
              "axis": {
                "orient": "bottom", "tickCount": {"interval": "month", "step": 1},
                "labelExpr": "month(datum.value) == 0 ? timeFormat(datum.value, '%Y') : timeFormat(datum.value, '%b')",
                "labelFontWeight": {"condition": {"test": "month(datum.value) == 0", "value": "bold"}, "value": "normal"},
                "labelFlush": false, "labelOverlap": false, "labelPadding": 2,
                "grid": true, "gridColor": "#c4c4c4", "ticks": false, "domain": false, "title": null
              }
            },
            "y": {
              "field": "v", "type": "quantitative",
              "scale": {"domain": [11034, 14372], "nice": false, "zero": false},
              "axis": {
                "orient": "right",
                "values": [11100,11200,11300,11400,11500,11600,11700,11800,11900,12000,12100,12200,12300,12400,12500,12600,12700,12800,12900,13000,13100,13200,13300,13400,13500,13600,13700,13800,13900,14000,14100,14200,14300],
                "format": "d", "grid": true, "gridColor": "#dcdcdc", "ticks": false, "domain": false, "labelPadding": 4, "title": null
              }
            }
          }
        },
        {
          "data": {"name": "prev"},
          "transform": [{"filter": "datum.p == 'TSX'"}],
          "mark": {"type": "rule", "color": "#1a1a80", "strokeDash": [3, 2], "clip": false},
          "encoding": {
            "x": {
              "field": "d", "type": "temporal",
              "axis": {"orient": "top", "tickCount": {"interval": "week", "step": 1}, "labels": false, "ticks": false, "domain": false, "grid": true, "gridColor": "#e2e2e2", "title": null}
            },
            "x2": {"field": "d2"},
            "y": {
              "field": "v", "type": "quantitative",
              "axis": {
                "orient": "left", "labels": false, "ticks": false, "domain": false, "grid": false,
                "title": "⇅ $TSX (60 min) 12387.54", "titleAngle": 0, "titleAlign": "left", "titleBaseline": "alphabetic",
                "titleX": 4, "titleY": 9, "titleFont": "DejaVu Sans Mono", "titleFontSize": 11, "titleFontWeight": "normal", "titleColor": "#222222"
              }
            }
          }
        },
        {
          "data": {"name": "chan"},
          "transform": [{"filter": "datum.p == 'TSX'"}],
          "mark": {"type": "line", "color": "#2b2bcf", "strokeWidth": 1, "clip": false},
          "encoding": {
            "x": {"field": "d", "type": "temporal", "axis": null},
            "y": {"field": "v", "type": "quantitative", "axis": null},
            "detail": {"field": "g"}
          }
        }
      ]
    }
  ]
}
